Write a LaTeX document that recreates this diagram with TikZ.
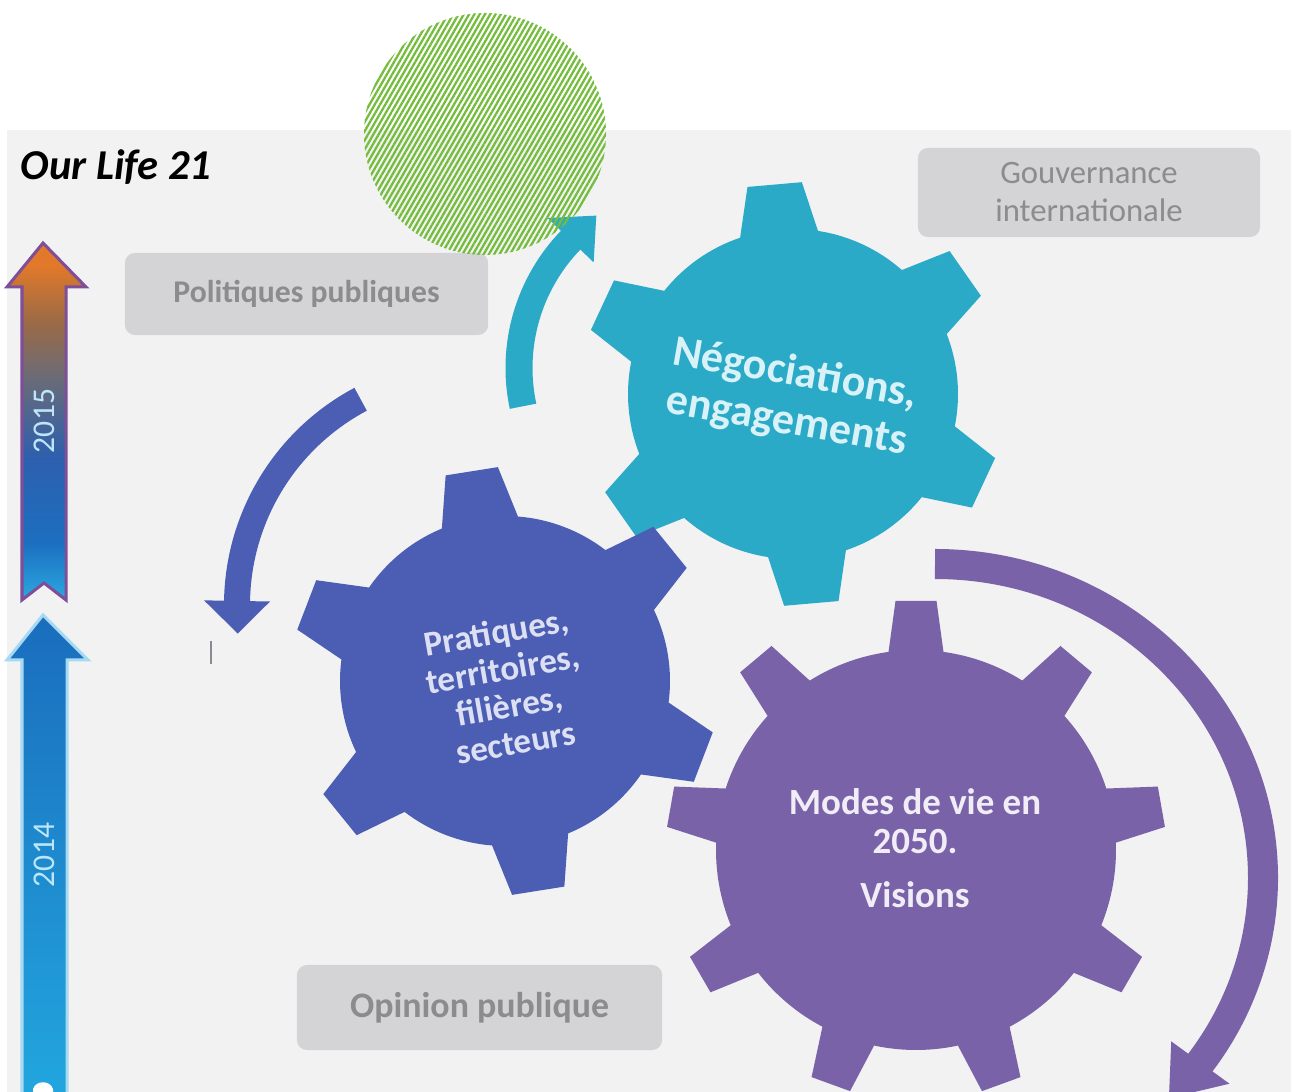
\documentclass[tikz,border=0pt]{standalone}
\usepackage{fontspec}
\setmainfont{Carlito}
\usetikzlibrary{patterns.meta,calc}
\definecolor{panel}{HTML}{F2F2F3}
\definecolor{boxgray}{HTML}{D4D4D6}
\definecolor{boxtext}{HTML}{8C8C8E}
\definecolor{tealg}{HTML}{2BAAC8}
\definecolor{tealtext}{HTML}{D9F2F8}
\definecolor{blueg}{HTML}{4B5EB3}
\definecolor{bluetext}{HTML}{DCE0F2}
\definecolor{purpg}{HTML}{7A62A9}
\definecolor{purptext}{HTML}{F0EDF7}
\definecolor{hatch}{HTML}{74BC3C}
\definecolor{ca}{HTML}{2BA8E0}
\definecolor{cb}{HTML}{1C6FC0}
\definecolor{cc}{HTML}{2E5FAE}
\definecolor{cd}{HTML}{6A6B78}
\definecolor{ce}{HTML}{9C6A45}
\definecolor{cf}{HTML}{E2792A}
\definecolor{outpurple}{HTML}{7E4F98}
\definecolor{lowtop}{HTML}{1A6DBD}
\definecolor{lowbot}{HTML}{22A8E0}
\definecolor{glow}{HTML}{A6D9F2}
\definecolor{yeartext}{HTML}{BDE6F8}
\definecolor{markgray}{HTML}{8A8A95}
\pgfdeclareverticalshading{uptwentyfifteen}{100bp}{color(0bp)=(ca); color(25bp)=(ca); color(33bp)=(cb); color(45bp)=(cc); color(56bp)=(cd); color(64bp)=(ce); color(72bp)=(cf); color(100bp)=(cf)}
\tikzset{
  graybox/.style={fill=boxgray, rounded corners=0.1cm, text=boxtext, inner sep=0pt, align=center},
  yearlabel/.style={rotate=90, text=yeartext, font=\fontsize{9}{10}\selectfont},
}
\newcommand{\mygear}[9]{%
  \pgfmathsetmacro{\gstep}{360/#3}%
  \pgfmathtruncatemacro{\glast}{#3-1}%
  \begin{scope}[shift={(#1,#2)}]
  \fill[#9] ({#4-#7}:#5) \foreach \k in {0,...,\glast}{
     -- ({#4+\k*\gstep-#7}:#5) -- ({#4+\k*\gstep-#8}:#6) -- ({#4+\k*\gstep+#8}:#6) -- ({#4+\k*\gstep+#7}:#5)
     arc[start angle={#4+\k*\gstep+#7}, end angle={#4+(\k+1)*\gstep-#7}, radius=#5]} -- cycle;
  \end{scope}}
\begin{document}
\begin{tikzpicture}[x=0.01cm,y=-0.01cm]
\clip (0,0) rectangle (1291,1092);
\fill[white] (0,0) rectangle (1291,1092);
\fill[panel] (7,130) rectangle (1291,1092);

% title
\node[anchor=base west, inner sep=0pt, font=\bfseries\itshape\fontsize{12.1}{14}\selectfont] (title) at (20,180) {Our Life 21};

% timeline arrows
\shadedraw[shading=uptwentyfifteen, draw=outpurple, line width=0.03cm] (43,243) -- (86,287) -- (66,287) -- (66,600) -- (44,583) -- (22,600) -- (22,287) -- (7,287) -- cycle;
\node[yearlabel] (y15) at (44,421) {2015};
\shadedraw[top color=lowtop, bottom color=lowbot, draw=glow, line width=0.03cm] (43,615) -- (88,660) -- (67,660) -- (67,1110) -- (22,1110) -- (22,660) -- (7,660) -- cycle;
\node[yearlabel] (y14) at (44,855) {2014};
\fill[white] (33,1092) -- (33,1089) .. controls (36,1080) and (50,1080) .. (53,1089) -- (53,1092) -- cycle;

% gray boxes
\node[graybox, minimum width=3.63cm, minimum height=0.82cm, font=\bfseries\fontsize{9}{10.5}\selectfont] (pol) at (306.5,294) {Politiques publiques};
\node[graybox, minimum width=3.42cm, minimum height=0.89cm, font=\fontsize{9.3}{10.8}\selectfont] (gouv) at (1089,192.5) {Gouvernance\\internationale};
\node[graybox, minimum width=3.65cm, minimum height=0.85cm, font=\bfseries\fontsize{10.2}{12}\selectfont] (opin) at (479.5,1007.5) {Opinion publique};

% small mark
\coordinate (m1) at (211,641);
\coordinate (m2) at (211,664);
\draw[markgray, line width=0.025cm] (m1) -- (m2);

% curved arrows
\coordinate (tc) at (703,368);
\draw[tealg, line width=0.27cm] ($(tc)+(168:184)$) arc[start angle=168, end angle=224.5, radius=184];
\fill[tealg] ($(tc)+(224:216)$) -- ($(tc)+(235:186)$) -- ($(tc)+(224:152)$) -- cycle;

\coordinate (bc) at (470,605);
\draw[blueg, line width=0.26cm] ($(bc)+(242:233)$) arc[start angle=242, end angle=180.5, radius=233];
\fill[blueg] ($(bc)+(181:200)$) -- ($(bc)+(173:234)$) -- ($(bc)+(181:266)$) -- cycle;

\coordinate (pc) at (935,878);
\draw[purpg, line width=0.30cm] ($(pc)+(-90:328 and 314)$) arc[start angle=-90, end angle=36.5, x radius=328, y radius=314];
\fill[purpg] ($(pc)+(36:292 and 278)$) -- ($(pc)+(44.5:328 and 314)$) -- ($(pc)+(36:364 and 350)$) -- cycle;

% gears
\mygear{793}{394}{6}{-95}{165}{212}{13.7}{7.4}{tealg}
\mygear{505}{681}{6}{-99}{165}{214}{13.5}{7.1}{blueg}
\mygear{916}{850}{9}{-90}{200}{250}{7.9}{4.7}{purpg}

\node[text=tealtext, rotate=-10, align=center, font=\bfseries\fontsize{12.5}{13.8}\selectfont] (neg) at (791,398) {Négociations,\\engagements};
\node[text=bluetext, rotate=10, align=center, font=\bfseries\fontsize{10}{10.6}\selectfont] (prat) at (506,687) {Pratiques,\\territoires,\\filières,\\secteurs};
\node[text=purptext, align=center, font=\bfseries\fontsize{10.5}{11.3}\selectfont] (modes) at (915,848) {Modes de vie en\\2050.\\[4pt]Visions};

% hatched circle
\fill[pattern={Lines[angle=60,distance=1.3pt,line width=0.65pt]}, pattern color=hatch] (485,134) circle[radius=121];
\end{tikzpicture}
\end{document}
